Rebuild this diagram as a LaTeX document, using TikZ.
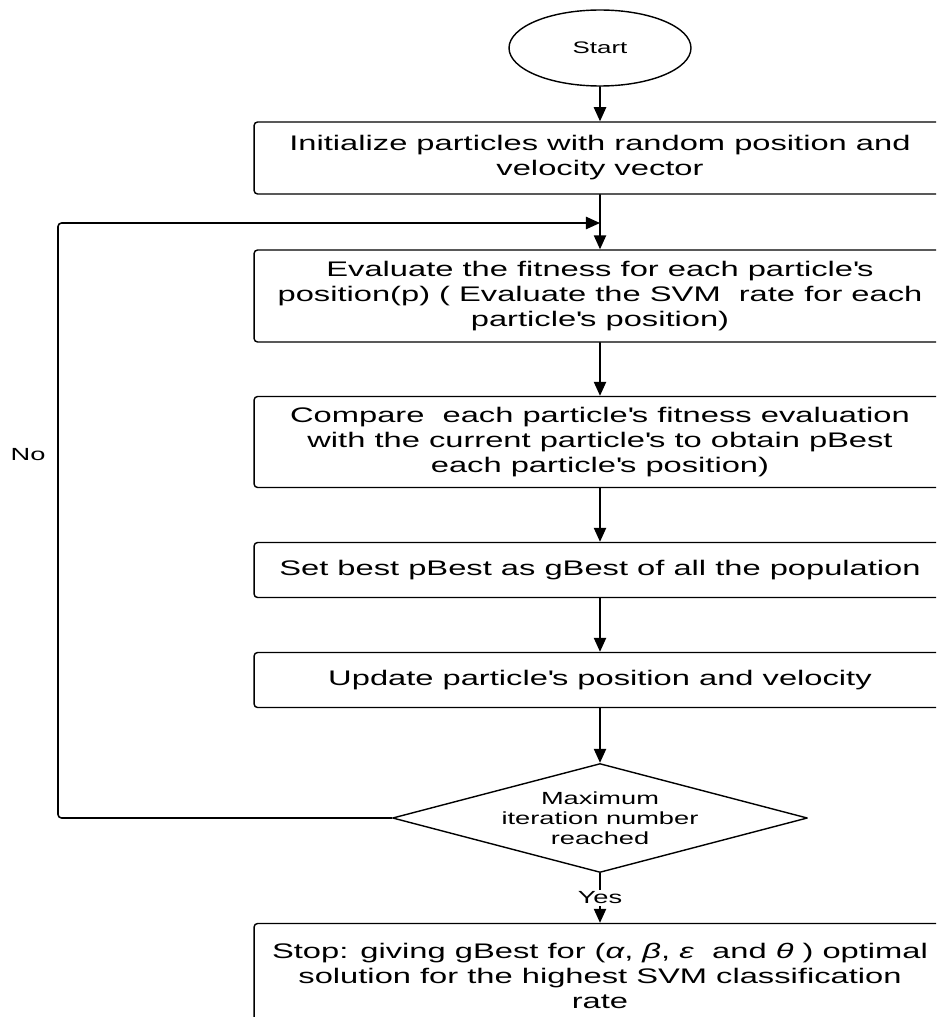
\documentclass[tikz,border=0pt]{standalone}
\usepackage{fontspec}
\setmainfont{Liberation Sans}[FakeStretch=1.55]
\usepackage{tikz}
\usetikzlibrary{arrows.meta,shapes.geometric}
\newcommand{\apo}{\textquotesingle}

\begin{document}
\begin{tikzpicture}[line cap=round,line join=round,>={Triangle[length=8pt,width=7pt]},x=0.02cm,y=-0.02cm,
  stepbox/.style={draw,rounded corners=2pt,line width=0.8pt,minimum width=13.84cm,align=center,inner sep=2pt,font=\fontsize{12}{14.2}\selectfont},
  flow/.style={->,line width=0.9pt}]
\useasboundingbox (0,0) rectangle (936,1017);
\clip (0,0) rectangle (936,1017);
% start and the process boxes
\node[draw,ellipse,line width=0.8pt,minimum width=3.64cm,minimum height=1.52cm,font=\fontsize{9.5}{11}\selectfont] (start) at (600,48) {Start};
\node[stepbox,minimum height=1.44cm] (init) at (600,158) {Initialize particles with random position and\\velocity vector};
\node[stepbox,minimum height=1.84cm] (eval) at (600,296) {Evaluate the fitness for each particle\apo s\\position(p) ( Evaluate the SVM\ \ rate for each\\particle\apo s position)};
\node[stepbox,minimum height=1.82cm] (comp) at (600,442) {Compare\ \ each particle\apo s fitness evaluation\\with the current particle\apo s to obtain pBest\\each particle\apo s position)};
\node[stepbox,minimum height=1.1cm] (best) at (600,570) {Set best pBest as gBest of all the population};
\node[stepbox,minimum height=1.1cm] (upd) at (600,680) {Update particle\apo s position and velocity};
\node[draw,diamond,aspect=3.8,line width=0.8pt,inner sep=0pt,minimum width=8.3cm,minimum height=2.18cm,align=center,font=\fontsize{10}{11.4}\selectfont] (dec) at (600,818) {Maximum\\iteration number\\reached};
\node[stepbox,minimum height=2.1cm] (stop) at (600,976) {Stop: giving gBest for (\textit{α}, \textit{β}, \textit{ε}\ \ and \textit{θ} ) optimal\\solution for the highest SVM classification\\rate};
\node[font=\fontsize{10}{12}\selectfont] (nolbl) at (28,455) {No};
% connectors
\coordinate (join) at (600,223);
\coordinate (noturn) at (58,818);
\draw[flow] (start) -- (init);
\draw[flow] (init) -- (eval);
\draw[flow] (eval) -- (comp);
\draw[flow] (comp) -- (best);
\draw[flow] (best) -- (upd);
\draw[flow] (upd) -- (dec);
\draw[flow] (dec) -- node[fill=white,inner sep=1pt,font=\fontsize{10}{12}\selectfont] (yes) {Yes} (stop);
\draw[flow,rounded corners=2pt] (dec.west) -- (noturn) |- (join);
\end{tikzpicture}
\end{document}
